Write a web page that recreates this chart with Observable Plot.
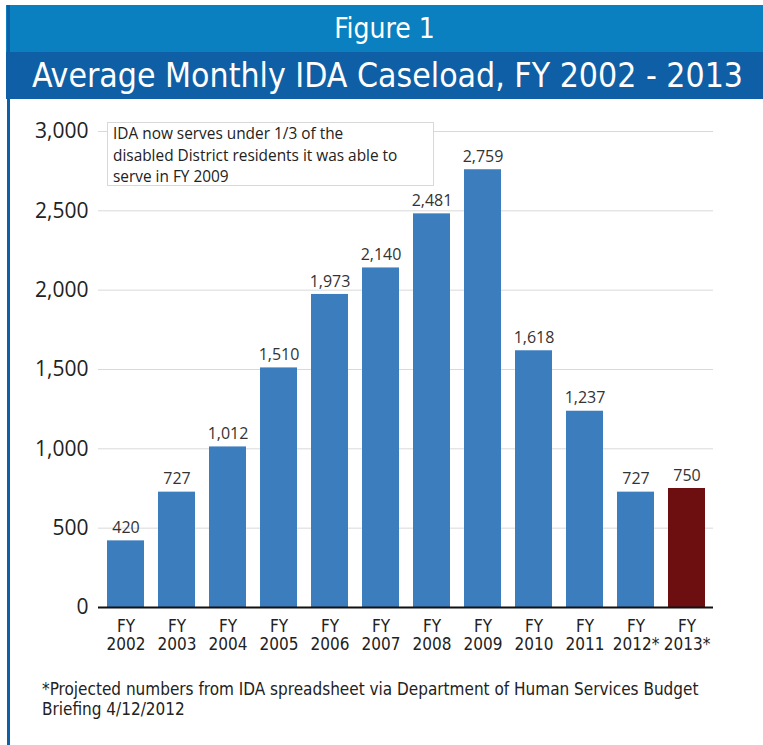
<!DOCTYPE html>
<html>
<head>
<meta charset="utf-8">
<script src="https://cdn.jsdelivr.net/npm/d3@7"></script>
<script src="https://cdn.jsdelivr.net/npm/@observablehq/plot@0.6"></script>
<style>
  html, body { margin: 0; padding: 0; background: #fff; }
  #page { position: relative; width: 763px; height: 745px; overflow: hidden; background: #fff; }
  .band1 { position: absolute; left: 6px; right: 0; top: 5px; height: 47px; background: #0a80c0;
           color: #fff; text-align: center; font-family: "Liberation Sans Narrow", "DejaVu Sans Condensed", sans-serif;
           font-size: 28px; line-height: 47px; }
  .band2 { position: absolute; left: 6px; right: 0; top: 52px; height: 47px; background: #0e5fa5;
           color: #fff; text-align: center; font-family: "Liberation Sans Narrow", "DejaVu Sans Condensed", sans-serif;
           font-size: 33.5px; line-height: 47px; padding-left: 6px; box-sizing: border-box; }
  .leftline { position: absolute; left: 7px; width: 3px; top: 5px; bottom: 0; background: #0e5fa5; }
  #chart { position: absolute; left: 0; top: 99px; }
  .note { position: absolute; left: 107px; top: 122px; width: 320px; height: 62px; border: 1px solid #d8d8d8;
          background: #fff; font-family: "Open Sans", sans-serif; font-size: 15.4px; line-height: 21.5px;
          color: #222; padding: 0 0 0 5px; white-space: nowrap; }
  .foot { position: absolute; left: 42px; top: 679px; width: 720px; font-family: "Liberation Sans Narrow", "DejaVu Sans Condensed", sans-serif;
          font-size: 17px; line-height: 20px; color: #222; white-space: nowrap; }
</style>
</head>
<body>
<div id="page">
  <div class="band1">Figure 1</div>
  <div class="band2">Average Monthly IDA Caseload, FY 2002 - 2013</div>
  <div class="leftline"></div>
  <div id="chart"></div>
  <div class="note">IDA now serves under 1/3 of the<br>disabled District residents it was able to<br>serve in FY 2009</div>
  <div class="foot">*Projected numbers from IDA spreadsheet via Department of Human Services Budget<br>Briefing 4/12/2012</div>
</div>
<script>
const years = ["2002", "2003", "2004", "2005", "2006", "2007", "2008", "2009", "2010", "2011", "2012*", "2013*"];
const caseload = [420, 727, 1012, 1510, 1973, 2140, 2481, 2759, 1618, 1237, 727, 750];
const yTicks = [0, 500, 1000, 1500, 2000, 2500, 3000];
const highlighted = ["2013*"];

const data = years.map((y, i) => ({year: y, value: caseload[i]}));
const blue = "#3b7dbd";
const red = "#6d0f10";

const chart = Plot.plot({
  width: 763,
  height: 570,
  marginTop: 32,
  marginBottom: 62,
  marginLeft: 98,
  marginRight: 50,
  style: {background: "transparent", fontFamily: "Open Sans, sans-serif"},
  x: {domain: years, paddingInner: 0.28, paddingOuter: 0.1, label: null},
  y: {domain: [0, 3000], label: null},
  marks: [
    Plot.gridY(yTicks, {stroke: "#d9d9d9", strokeOpacity: 1}),
    Plot.barY(data, {x: "year", y: "value", fill: d => highlighted.includes(d.year) ? red : blue}),
    Plot.text(data, {x: "year", y: "value", text: d => d3.format(",")(d.value), dy: -13,
      fill: "#333", fontSize: 16, fontFamily: "Open Sans, sans-serif"}),
    Plot.ruleY([0], {stroke: "#111", strokeWidth: 2}),
    Plot.axisY(yTicks, {tickFormat: d3.format(","), tickSize: 0, tickPadding: 10, fontSize: 21,
      fill: "#222", fontFamily: "Open Sans, sans-serif", label: null}),
    Plot.axisX({tickSize: 0, tickPadding: 11, tickFormat: d => "FY\n" + d, fontSize: 17,
      lineHeight: 1.1, fill: "#222", fontFamily: "Liberation Sans Narrow, DejaVu Sans Condensed, sans-serif", label: null})
  ]
});
document.getElementById("chart").appendChild(chart);
</script>
</body>
</html>
